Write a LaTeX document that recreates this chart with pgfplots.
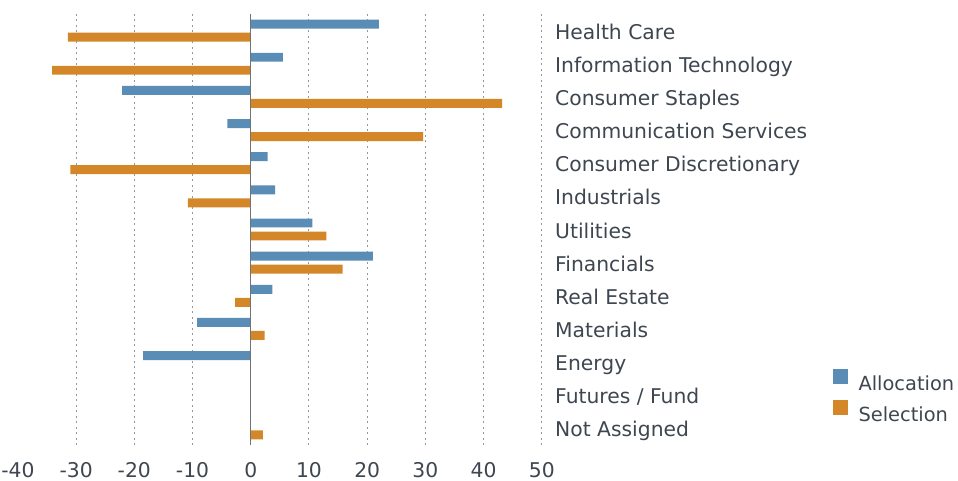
\documentclass[border=0pt]{standalone}
\usepackage{fontspec}
\setmainfont{DejaVu Sans}
\usepackage{pgfplots}
\pgfplotsset{compat=1.18}
\definecolor{allocc}{RGB}{90,141,182}
\definecolor{selc}{RGB}{211,135,41}
\definecolor{txt}{RGB}{62,70,80}
\definecolor{gridc}{RGB}{150,150,150}
\definecolor{zeroc}{RGB}{115,115,115}
\begin{document}
\begin{tikzpicture}
\begin{axis}[
  name=ax,
  scale only axis,
  width=523.9pt, height=431pt,
  xmin=-40, xmax=50, ymin=-0.5, ymax=12.5,
  xbar, bar width=0.27,
  axis line style={draw=none},
  tick style={draw=none},
  major tick length=0pt,
  xtick={-30,-20,...,50},
  xticklabels={-30,-20,-10,0,10,20,30,40,50},
  extra x ticks={-40}, extra x tick labels={-40},
  extra x tick style={grid=none},
  xmajorgrids,
  major grid style={gridc, dash pattern=on 2pt off 3.5pt, line width=1pt},
  ytick={0,...,12},
  yticklabels={Not Assigned,Futures / Fund,Energy,Materials,Real Estate,Financials,Utilities,Industrials,Consumer Discretionary,Communication Services,Consumer Staples,Information Technology,Health Care},
  yticklabel pos=right,
  yticklabel style={anchor=base west, inner sep=0pt, xshift=13.2pt, yshift=-8.5pt},
  xticklabel style={anchor=base, inner sep=0pt, yshift=-32pt},
  tick label style={font=\fontsize{20.3}{24}\selectfont, text=txt},
  legend style={at={(1.5553,0.1763)}, anchor=north west, draw=none, fill=none,
    inner sep=0pt, font=\fontsize{19.4}{23}\selectfont, text=txt,
    column sep=10.6pt, row sep=9.6pt, nodes={inner sep=0pt, text depth=0pt}},
  legend cell align=left,
]
\addplot[xbar, fill=allocc, draw=none, bar shift=0.196,
  legend image code/.code={\fill[allocc] (0pt,-1pt) rectangle (15pt,14pt);}]
  coordinates {(22.0,12) (5.5,11) (-22.1,10) (-4.0,9) (2.9,8) (4.2,7) (10.6,6) (21.0,5) (3.7,4) (-9.2,3) (-18.5,2) (0,1) (0,0)};
\addlegendentry{Allocation}
\addplot[xbar, fill=selc, draw=none, bar shift=-0.196,
  legend image code/.code={\fill[selc] (0pt,-1pt) rectangle (15pt,14pt);}]
  coordinates {(-31.4,12) (-34.1,11) (43.2,10) (29.6,9) (-31.0,8) (-10.8,7) (13.0,6) (15.8,5) (-2.7,4) (2.4,3) (0,2) (0,1) (2.1,0)};
\addlegendentry{Selection}
\draw[zeroc, line width=1.3pt] (axis cs:0,-0.5) -- (axis cs:0,12.5);
\end{axis}
\pgfresetboundingbox
\path[use as bounding box] ([xshift=-17.9pt,yshift=14pt]ax.north west) rectangle ([xshift=940.1pt,yshift=-466pt]ax.north west);
\end{tikzpicture}
\end{document}
